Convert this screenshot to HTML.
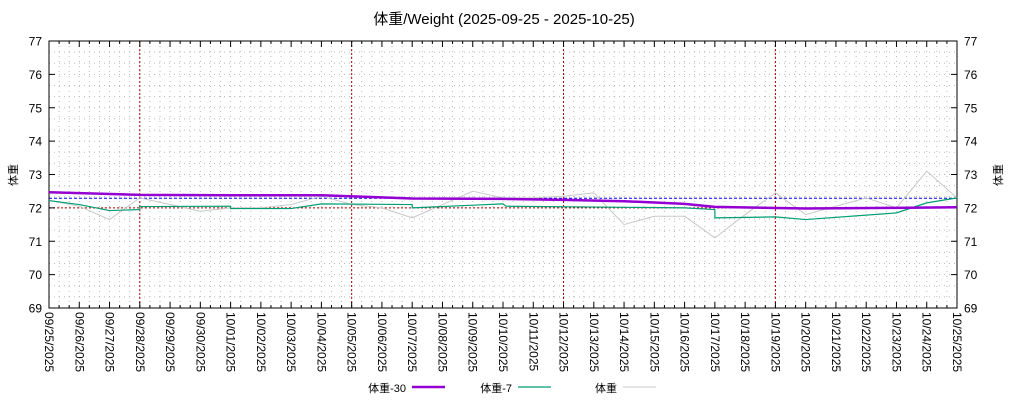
<!DOCTYPE html>
<html><head><meta charset="utf-8"><style>
body{margin:0;background:#fff;}
svg{display:block;font-family:"Liberation Sans","Noto Sans CJK JP",sans-serif;}
</style></head><body>
<svg id="s" width="1024" height="400" xmlns="http://www.w3.org/2000/svg">
<text x="504" y="24" font-size="15" text-anchor="middle">体重/Weight (2025-09-25 - 2025-10-25)</text>
</svg>
<script>
const s=document.getElementById('s');const NS='http://www.w3.org/2000/svg';
function el(t,a,txt){const e=document.createElementNS(NS,t);for(const k in a)e.setAttribute(k,a[k]);if(txt!==undefined)e.textContent=txt;s.appendChild(e);return e;}
const L=49,R=957,T=41,B=308;
const X=d=>L+d*(R-L)/30, Y=v=>B-(v-69)*(B-T)/8;
for(let i=1;i<90;i++){const x=L+i*(R-L)/90;el('line',{x1:x,y1:T,x2:x,y2:B,stroke:'#bbb','stroke-width':1,'stroke-dasharray':'1,4'});}
for(let i=1;i<24;i++){const y=B-i*(B-T)/24;el('line',{x1:L,y1:y,x2:R,y2:y,stroke:'#bbb','stroke-width':1,'stroke-dasharray':'1,4'});}
[3,10,17,24].forEach(d=>el('line',{x1:X(d),y1:T,x2:X(d),y2:B,stroke:'#b00000','stroke-width':1,'stroke-dasharray':'2,2'}));
el('line',{x1:L,y1:Y(72),x2:R,y2:Y(72),stroke:'#b00000','stroke-width':1,'stroke-dasharray':'2,2'});
el('line',{x1:L,y1:Y(72.29),x2:R,y2:Y(72.29),stroke:'#0000ff','stroke-width':1,'stroke-dasharray':'3,2'});
el('rect',{x:L,y:T,width:R-L,height:B-T,fill:'none',stroke:'#000','stroke-width':1});
for(let v=69;v<=77;v++){const y=Y(v);
 el('line',{x1:L,y1:y,x2:L+6,y2:y,stroke:'#000'});el('line',{x1:R-6,y1:y,x2:R,y2:y,stroke:'#000'});
 el('text',{x:42,y:y+4.5,'font-size':12,'text-anchor':'end'},v);
 el('text',{x:964,y:y+4.5,'font-size':12},v);}
for(let i=0;i<=90;i++){const x=L+i*(R-L)/90;const len=i%3==0?6:3;
 el('line',{x1:x,y1:T,x2:x,y2:T+len,stroke:'#000'});el('line',{x1:x,y1:B,x2:x,y2:B-len,stroke:'#000'});}
for(let d=0;d<=30;d++){const dt=new Date(2025,8,25+d);
 const lab=String(dt.getMonth()+1).padStart(2,'0')+'/'+String(dt.getDate()).padStart(2,'0')+'/2025';
 const x=X(d);el('text',{x:0,y:0,'font-size':12,transform:`translate(${x-4},312) rotate(90)`},lab);}
el('text',{x:0,y:0,'font-size':11,'text-anchor':'middle',transform:'translate(17,175) rotate(-90)'},'体重');
el('text',{x:0,y:0,'font-size':11,'text-anchor':'middle',transform:'translate(1002,175) rotate(-90)'},'体重');
function line(pts,c,w){el('polyline',{points:pts.map(p=>X(p[0])+','+Y(p[1])).join(' '),fill:'none',stroke:c,'stroke-width':w,'stroke-linejoin':'round'});}
line([[0,72.22],[1,72.05],[2,71.65],[3,72.3],[4,72.1],[5,71.9],[6,72.0],[7,72.0],[8,72.1],[9,72.35],[10,72.1],[11,72.0],[12,71.7],[13,72.1],[14,72.5],[15,72.3],[16,72.3],[17,72.35],[18,72.45],[19,71.5],[20,71.75],[21,71.75],[22,71.1],[23,71.8],[24,72.45],[25,71.8],[26,72.05],[27,72.3],[28,72.0],[29,73.1],[30,72.3]],'#c8c8c8',1);
line([[0,72.22],[1,72.1],[2,71.92],[3,71.95],[3,72.04],[6,72.05],[6,71.98],[8,71.98],[9,72.12],[12,72.1],[12,72.0],[14,72.08],[15,72.12],[15.1,72.05],[21,72.0],[22,71.95],[22,71.7],[24,71.73],[25,71.65],[28,71.85],[29,72.15],[30,72.3]],'#009e73',1.2);
line([[0,72.47],[3,72.39],[6,72.38],[9,72.38],[12,72.28],[15,72.27],[17,72.24],[19,72.2],[21,72.12],[22,72.03],[25,71.98],[28,72.0],[30,72.02]],'#9400d3',2.5);
const lg=[['体重-30','#9400d3',2.5,406],['体重-7','#009e73',1.2,512],['体重','#c8c8c8',1,617]];
lg.forEach(g=>{el('text',{x:g[3],y:392,'font-size':11,'text-anchor':'end'},g[0]);el('line',{x1:g[3]+6,y1:387,x2:g[3]+39,y2:387,stroke:g[1],'stroke-width':g[2]});});
</script>
</body></html>
